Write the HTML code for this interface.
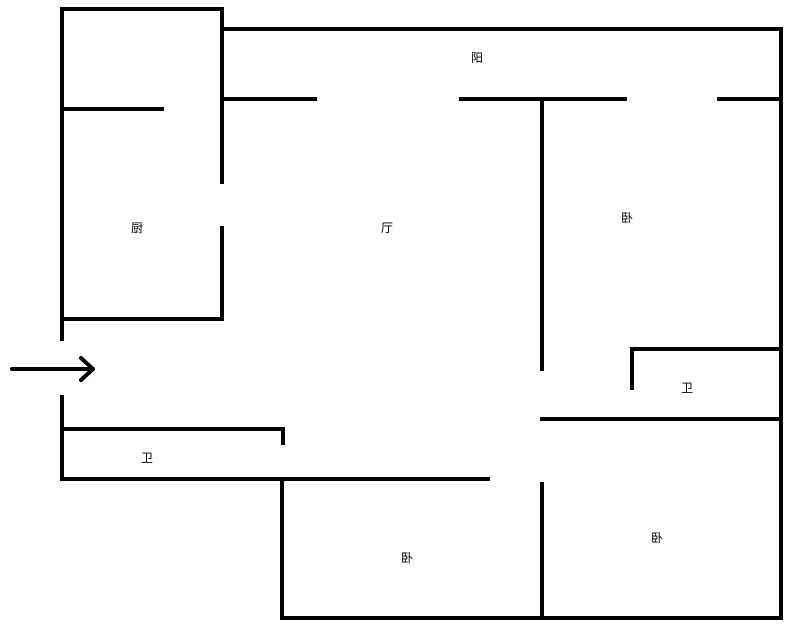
<!DOCTYPE html>
<html><head><meta charset="utf-8"><style>
html,body{margin:0;padding:0;background:#fff;}
svg{display:block;}
text{font-family:"Liberation Sans","Noto Sans CJK SC",sans-serif;font-size:12px;fill:#000;}
</style></head><body>
<svg width="791" height="628" viewBox="0 0 791 628" xmlns="http://www.w3.org/2000/svg">
<g stroke="#000" stroke-width="4" fill="none" stroke-linecap="square">
<line x1="62" y1="9" x2="62" y2="339"/>
<line x1="62" y1="397" x2="62" y2="479"/>
<line x1="62" y1="9" x2="222" y2="9"/>
<line x1="222" y1="9" x2="222" y2="182"/>
<line x1="222" y1="228" x2="222" y2="319"/>
<line x1="62" y1="109" x2="162" y2="109"/>
<line x1="62" y1="319" x2="222" y2="319"/>
<line x1="222" y1="29" x2="781" y2="29"/>
<line x1="781" y1="29" x2="781" y2="618"/>
<line x1="222" y1="99" x2="315" y2="99"/>
<line x1="461" y1="99" x2="625" y2="99"/>
<line x1="719" y1="99" x2="781" y2="99"/>
<line x1="542" y1="99" x2="542" y2="369"/>
<line x1="632" y1="349" x2="781" y2="349"/>
<line x1="632" y1="349" x2="632" y2="388"/>
<line x1="542" y1="419" x2="781" y2="419"/>
<line x1="542" y1="484" x2="542" y2="618"/>
<line x1="282" y1="618" x2="781" y2="618"/>
<line x1="282" y1="479" x2="282" y2="618"/>
<line x1="62" y1="479" x2="488" y2="479"/>
<line x1="62" y1="429" x2="283" y2="429"/>
<line x1="283" y1="429" x2="283" y2="443"/>
<line x1="12" y1="369" x2="92" y2="369" stroke-linecap="round"/>
<polyline points="81,358 93,369 81,380" stroke-linecap="round" stroke-linejoin="round"/>
</g>
<text x="471" y="62">阳</text>
<text x="131" y="232">厨</text>
<text x="381" y="232">厅</text>
<text x="621" y="222">卧</text>
<text x="681" y="392">卫</text>
<text x="141" y="462">卫</text>
<text x="401" y="562">卧</text>
<text x="651" y="542">卧</text>
</svg>
</body></html>
